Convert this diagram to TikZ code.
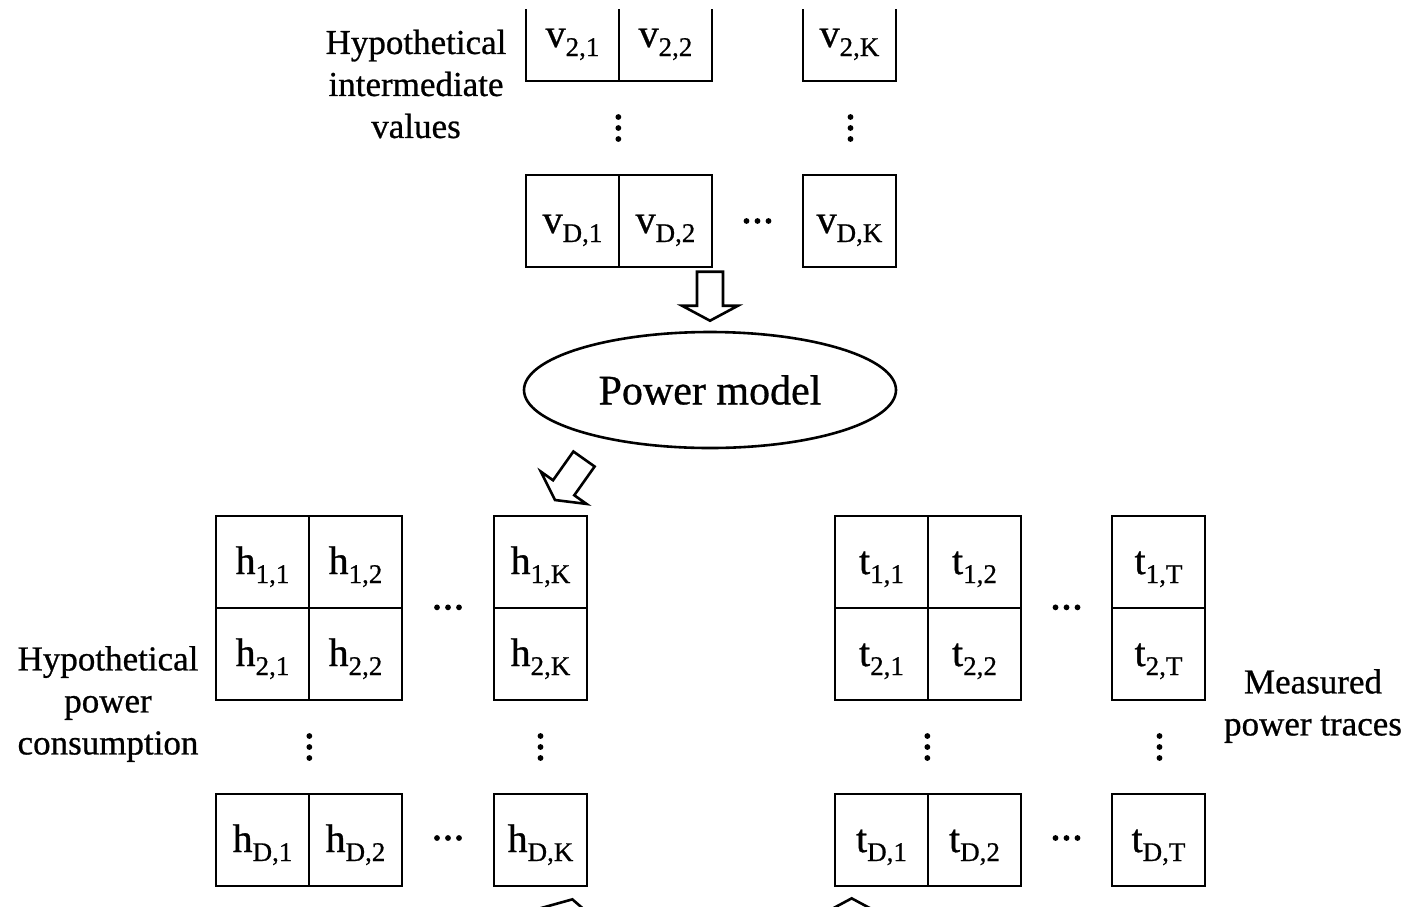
\documentclass[tikz,border=0pt]{standalone}
\usepackage{fontspec}
\setmainfont{Liberation Serif}[FakeBold=0.7]
\usetikzlibrary{calc,shapes.geometric}

% entry letter with a lowered index
\newcommand\ent[2]{#1\raisebox{-9pt}{\fontsize{27}{27}\selectfont #2}}
% outlined block arrow from tail #1 to tip #2 (#3 names the head base)
\newcommand\hollowarrow[3]{%
  \coordinate (#3-h) at ($(#2)!15pt!(#1)$);
  \draw[harrow] (#2)
    -- ($(#3-h)!28pt!90:(#2)$) -- ($(#3-h)!13pt!90:(#2)$)
    -- ($(#1)!13pt!90:(#2)$) -- ($(#1)!13pt!-90:(#2)$)
    -- ($(#3-h)!13pt!-90:(#2)$) -- ($(#3-h)!28pt!-90:(#2)$) -- cycle;}
% three dots, stacked or in a row
\newcommand\vdotsat[1]{\foreach \dd in {-11,0,11} \fill ($(#1)+(0,\dd)$) circle (2.9pt);}
\newcommand\hdotsat[1]{\foreach \dd in {-11,0,11} \fill ($(#1)+(\dd,0)$) circle (2.9pt);}

\begin{document}
\begin{tikzpicture}[x=1pt,y=-1pt,
  cell/.style={draw, line width=2.7pt, minimum width=93pt, minimum height=92pt,
    inner sep=0pt, text height=30pt, text depth=6pt, font=\fontsize{40}{48}\selectfont},
  lbl/.style={align=center, font=\fontsize{35}{42}\selectfont},
  harrow/.style={draw, line width=2.6pt, fill=white, line join=miter}]
\useasboundingbox (0,0) rectangle (1407,906);
\clip (0,9) rectangle (1407,906);

% intermediate values
\node[cell] (v21) at (572.5,35) {\ent{v}{2,1}};
\node[cell] (v22) at (665.5,35) {\ent{v}{2,2}};
\node[cell] (v2K) at (849.5,35) {\ent{v}{2,K}};
\node[cell] (vD1) at (572.5,221) {\ent{v}{D,1}};
\node[cell] (vD2) at (665.5,221) {\ent{v}{D,2}};
\node[cell] (vDK) at (849.5,221) {\ent{v}{D,K}};
\vdotsat{$(v21.south east)!0.5!(vD1.north east)+(-2,0)$}
\vdotsat{$(v2K.south)!0.5!(vDK.north)+(1,0)$}
\hdotsat{$(vD2.east)!0.5!(vDK.west)$}
\node[lbl] (lv) at (416,84) {Hypothetical\\intermediate\\values};

% power model
\node[ellipse, draw, line width=2.6pt, minimum width=372pt, minimum height=116pt,
  inner sep=0pt, font=\fontsize{42}{50}\selectfont] (pm) at (710,390) {Power model};

% hypothetical power consumption
\node[cell] (h11) at (262.5,562) {\ent{h}{1,1}};
\node[cell] (h12) at (355.5,562) {\ent{h}{1,2}};
\node[cell] (h1K) at (540.5,562) {\ent{h}{1,K}};
\node[cell] (h21) at (262.5,654) {\ent{h}{2,1}};
\node[cell] (h22) at (355.5,654) {\ent{h}{2,2}};
\node[cell] (h2K) at (540.5,654) {\ent{h}{2,K}};
\node[cell] (hD1) at (262.5,840) {\ent{h}{D,1}};
\node[cell] (hD2) at (355.5,840) {\ent{h}{D,2}};
\node[cell] (hDK) at (540.5,840) {\ent{h}{D,K}};
\hdotsat{$(h12.south east)!0.5!(h1K.south west)+(0,-2)$}
\hdotsat{$(hD2.east)!0.5!(hDK.west)+(0,-2)$}
\vdotsat{$(h21.south east)!0.5!(hD1.north east)+(-1,0)$}
\vdotsat{$(h2K.south)!0.5!(hDK.north)$}
\node[lbl] (lh) at (108,704) {Hypothetical\\power\\consumption};

% measured power traces
\node[cell] (t11) at (881.5,562) {\ent{t}{1,1}};
\node[cell] (t12) at (974.5,562) {\ent{t}{1,2}};
\node[cell] (t1T) at (1158.5,562) {\ent{t}{1,T}};
\node[cell] (t21) at (881.5,654) {\ent{t}{2,1}};
\node[cell] (t22) at (974.5,654) {\ent{t}{2,2}};
\node[cell] (t2T) at (1158.5,654) {\ent{t}{2,T}};
\node[cell] (tD1) at (881.5,840) {\ent{t}{D,1}};
\node[cell] (tD2) at (974.5,840) {\ent{t}{D,2}};
\node[cell] (tDT) at (1158.5,840) {\ent{t}{D,T}};
\hdotsat{$(t12.south east)!0.5!(t1T.south west)+(0,-2)$}
\hdotsat{$(tD2.east)!0.5!(tDT.west)+(0,-2)$}
\vdotsat{$(t21.south east)!0.5!(tD1.north east)+(-2,0)$}
\vdotsat{$(t2T.south)!0.5!(tDT.north)+(1,0)$}
\node[lbl] (lt) at (1313,706) {Measured\\power traces};

% block arrows
\coordinate (a1t) at ($(pm.north)+(0,-59)$);
\coordinate (a1p) at ($(pm.north)+(0,-10)$);
\hollowarrow{a1t}{a1p}{a1}
\coordinate (a2t) at ($(pm.center)+(-126,69)$);
\coordinate (a2p) at ($(pm.center)+(-155,110)$);
\hollowarrow{a2t}{a2p}{a2}
\coordinate (a3p) at ($(hDK.south east)+(-16,12)$);
\coordinate (a3t) at ($(a3p)+(-11,49)$);
\hollowarrow{a3t}{a3p}{a3}
\coordinate (a4p) at ($(tD1.south west)+(18,11)$);
\coordinate (a4t) at ($(a4p)+(0,49)$);
\hollowarrow{a4t}{a4p}{a4}
\end{tikzpicture}
\end{document}
